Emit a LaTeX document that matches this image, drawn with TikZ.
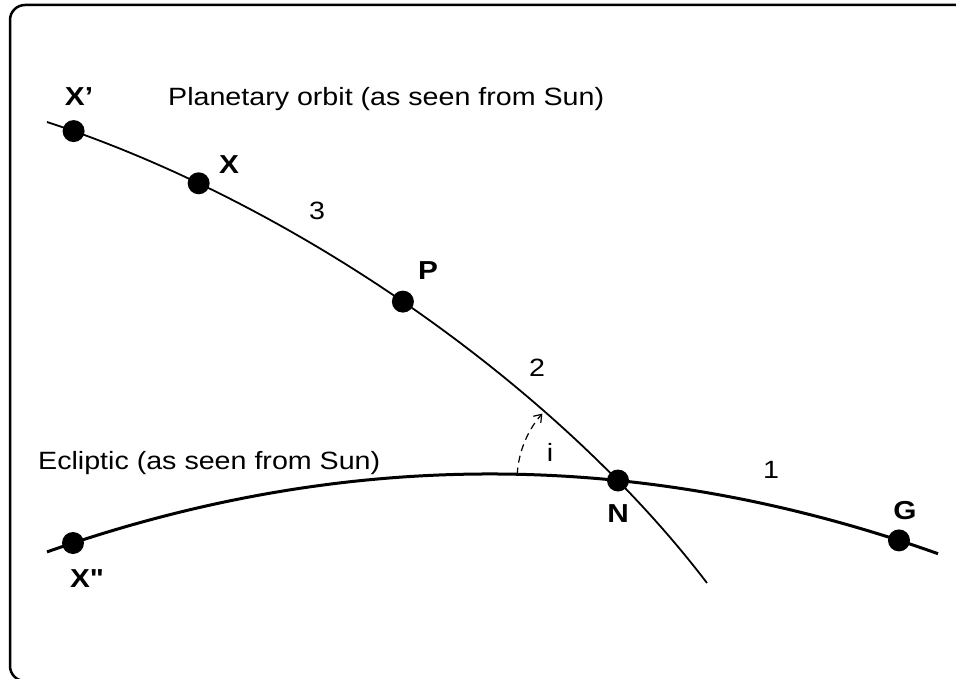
\documentclass[tikz,border=0pt]{standalone}
\usepackage{fontspec}
\setmainfont{Liberation Sans}[FakeStretch=1.145]
\usetikzlibrary{arrows.meta}
\begin{document}
\begin{tikzpicture}[x=1pt,y=-1pt,
  dot/.style={circle,fill=black,inner sep=0pt,minimum size=22pt},
  lbl/.style={font=\fontsize{26}{30}\selectfont\bfseries,inner sep=0pt},
  num/.style={font=\fontsize{25}{30}\selectfont,inner sep=0pt},
  captext/.style={font=\fontsize{25}{29}\selectfont,inner sep=0pt,anchor=base west},
  orbit/.style={line width=1.8pt},
  ecl/.style={line width=3pt},
  angarc/.style={line width=1.2pt,dash pattern=on 7pt off 5pt,-{Straight Barb[length=7pt,width=10pt]}},
  frame/.style={line width=2.5pt,rounded corners=15pt}]
\useasboundingbox (0,0) rectangle (956,679);
\begin{scope}
  \clip (0,0) rectangle (956,679);
  \draw[frame] (10,5) rectangle (990,681);
\end{scope}
% orbit end points and control points
\coordinate (o0) at (47,122);
\coordinate (oc1) at (300,205);
\coordinate (oc2) at (560,390);
\coordinate (o1) at (707,583);
% ecliptic end points and control points (parabola)
\coordinate (e0) at (47,551.9);
\coordinate (ec1) at (344,447.4);
\coordinate (ec2) at (641,448.0);
\coordinate (e7) at (938,553.7);
\draw[orbit] (o0) .. controls (oc1) and (oc2) .. (o1)
  coordinate[pos=0.035] (Xp)
  coordinate[pos=0.2] (X)
  coordinate[pos=0.48] (P);
\draw[ecl] (e0) .. controls (ec1) and (ec2) .. (e7);
\coordinate (N) at (618,480.5);
\coordinate (Xpp) at (73,543.0);
\coordinate (G) at (899,540.4);
% angle arc
\coordinate (a0) at ([shift={(176.6:101pt)}]N);
\draw[angarc] (a0) arc[start angle=176.6,end angle=138.5,radius=101pt];
% dots
\node[dot] (dXp) at (Xp) {};
\node[dot] (dX) at (X) {};
\node[dot] (dP) at (P) {};
\node[dot] (dN) at (N) {};
\node[dot] (dG) at (G) {};
\node[dot] (dXpp) at (Xpp) {};
% labels
\node[lbl] (lXp) at (79,97) {X’};
\node[lbl] (lX) at (229,165) {X};
\node[lbl] (lP) at (428,271) {P};
\node[lbl] (lN) at (618,514) {N};
\node[lbl] (lG) at (905,511) {G};
\node[lbl] (lXpp) at (87,579) {\addfontfeature{Ligatures=TeXOff}X"};
\node[num] (n3) at (317,211) {3};
\node[num] (n2) at (537,368) {2};
\node[num] (n1) at (771,470) {1};
\node[num] (ni) at (550,452) {i};
\node[captext] (tOrbit) at (168,106) {Planetary orbit (as seen from Sun)};
\node[captext] (tEcl) at (38,469) {Ecliptic (as seen from Sun)};
\end{tikzpicture}
\end{document}
